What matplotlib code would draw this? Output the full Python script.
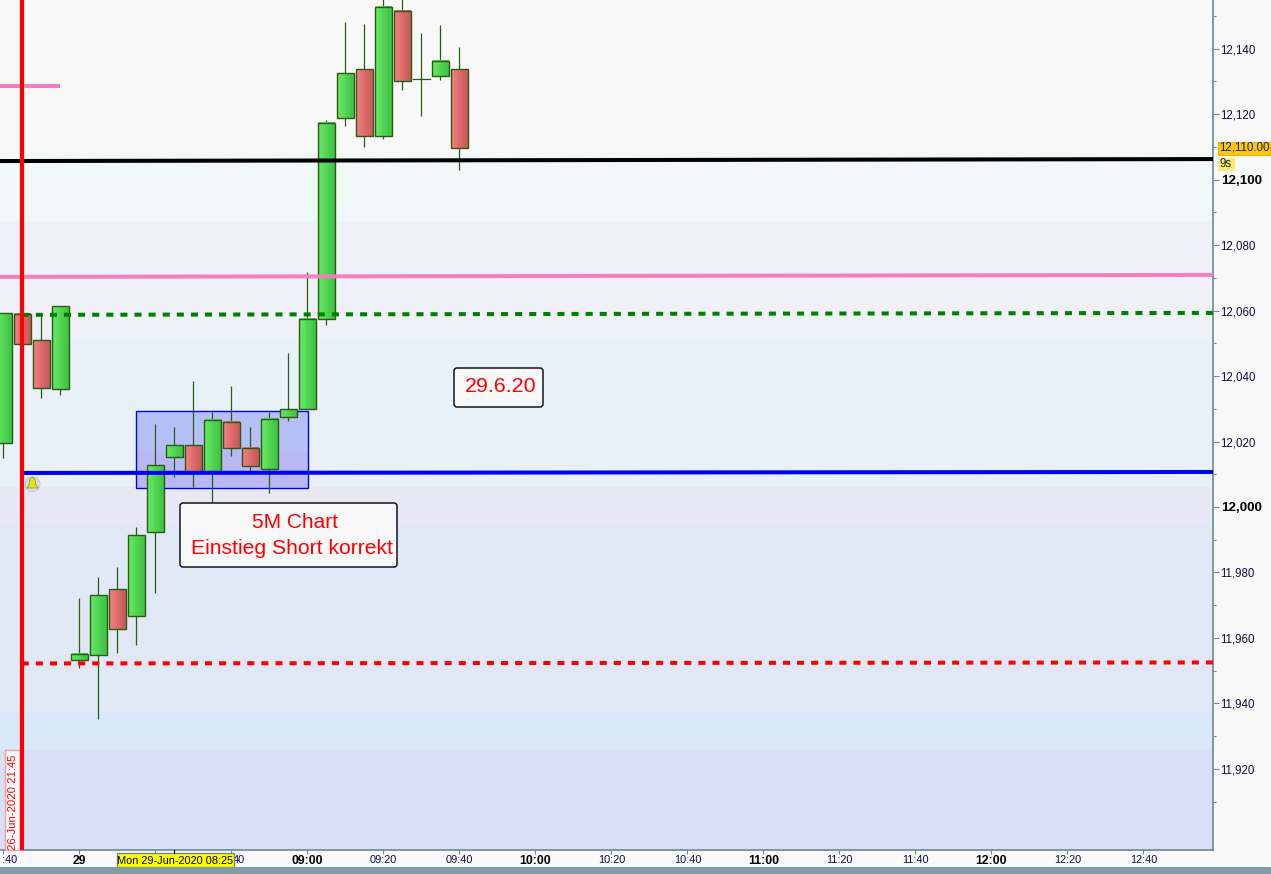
#!/usr/bin/env python3
# -*- coding: utf-8 -*-
import numpy as np
import matplotlib
matplotlib.use('Agg')
import matplotlib.pyplot as plt
from matplotlib.patches import Rectangle, FancyBboxPatch, Polygon, Circle
from matplotlib.transforms import Affine2D

plt.rcParams['font.family'] = ['Liberation Sans', 'DejaVu Sans']

# %% Data
# minutes relative to Mon 29-Jun 08:00, earlier ones are the Friday close
minutes = [-20, -15, -10, -5, 0, 5, 10, 15, 20, 25, 30, 35, 40, 45, 50, 55,
           60, 65, 70, 75, 80, 85, 90, 95, 100]
opens = [12019.6, 12059.0, 12051.0, 12036.1, 11953.2, 11954.8, 11974.9,
         11966.7, 11992.4, 12015.3, 12018.9, 12010.7, 12026.0, 12018.0,
         12011.6, 12027.5, 12029.9, 12057.4, 12118.9, 12133.8, 12113.2,
         12151.6, 12130.8, 12131.7, 12133.8]
highs = [12059.3, 12059.0, 12059.0, 12061.4, 11972.2, 11978.6, 11981.7,
         11993.9, 12025.4, 12024.4, 12038.5, 12029.0, 12037.0, 12024.4,
         12029.0, 12047.1, 12071.8, 12118.3, 12148.2, 12147.6, 12160.0,
         12160.0, 12144.8, 12147.3, 12140.6]
lows = [12015.0, 12049.8, 12033.3, 12034.2, 11950.8, 11935.2, 11955.4,
        11957.8, 11973.7, 12009.2, 12006.1, 12001.5, 12015.6, 12010.7,
        12004.3, 12026.3, 12029.9, 12055.6, 12116.4, 12110.0, 12112.4,
        12127.4, 12119.5, 12130.5, 12103.0]
closes = [12059.3, 12049.8, 12036.4, 12061.4, 11955.1, 11973.1, 11962.7,
          11991.4, 12012.8, 12018.9, 12010.7, 12026.6, 12018.0, 12012.5,
          12026.9, 12029.9, 12057.4, 12117.3, 12132.6, 12113.4, 12152.8,
          12130.2, 12130.8, 12136.3, 12109.7]

band_edges = [12155, 12108.5, 12087.4, 12051.6, 12006.1, 11994.8, 11937.4,
              11925.7, 11895.2]
band_colors = ['#f8f8f8', '#f0f8f8', '#f0f0f8', '#e8f0f8', '#e8e8f5',
               '#e0e8f5', '#d8e8f8', '#d8e0f8']

price_ticks = [11920, 11940, 11960, 11980, 12000, 12020, 12040, 12060, 12080,
               12100, 12120, 12140]
bold_prices = [12000, 12100]
minor_prices = [11910, 11930, 11950, 11970, 11990, 12010, 12030, 12050, 12070,
                12090, 12110, 12130, 12150]
time_ticks = [-20, 0, 20, 40, 60, 80, 100, 120, 140, 160, 180, 200, 220, 240,
              260, 280]
time_labels = ['', '29', '', '', '09:00', '09:20', '09:40', '10:00',
               '10:20', '10:40', '11:00', '11:20', '11:40', '12:00', '12:20',
               '12:40']
bold_times = ['29', '09:00', '10:00', '11:00', '12:00']

# (left, right) price of each drawn level
black_level = (12105.7, 12106.3)
pink_level = (12070.3, 12070.9)
green_level = (12058.7, 12059.3)
blue_level = (12010.4, 12010.7)
red_level = (11952.2, 11952.5)
pink_short = 12128.6
event_time = -15.2
zone_x = (14.9, 60.1)
zone_y = (12005.9, 12029.4)
zone_split = 12017

# %% Plot
fig = plt.figure(figsize=(12.71, 8.74), dpi=100, facecolor='#f8f8f8')
ax = fig.add_axes([0, 24 / 874, 1213 / 1271, 850 / 874], facecolor='#f8f8f8')
pix = Affine2D().scale(1, -1).translate(0, 874)  # reference pixels

xmin, xmax = -20.92, 298.3
ymin, ymax = 11895.2, 12154.9

for top, bottom, col in zip(band_edges[:-1], band_edges[1:], band_colors):
    ax.axhspan(bottom, top, color=col, lw=0, zorder=0)

zone_w = zone_x[1] - zone_x[0]
ax.add_patch(Rectangle((zone_x[0], zone_split), zone_w, zone_y[1] - zone_split,
                       facecolor='#b4c0f5', edgecolor='none', zorder=1))
ax.add_patch(Rectangle((zone_x[0], zone_y[0]), zone_w, zone_split - zone_y[0],
                       facecolor='#b8b8f5', edgecolor='none', zorder=1))
ax.add_patch(Rectangle((zone_x[0], zone_y[0]), zone_w, zone_y[1] - zone_y[0],
                       facecolor='none', edgecolor='#0000ff', lw=1.0, zorder=1.5))

# candles
shade = np.linspace(0, 1, 12)[:, None]
grad_green = (np.array([0.40, 0.92, 0.40]) * (1 - shade)
              + np.array([0.25, 0.76, 0.27]) * shade)[None, :, :]
grad_red = (np.array([0.96, 0.50, 0.50]) * (1 - shade)
            + np.array([0.78, 0.35, 0.35]) * shade)[None, :, :]
wick = '#2b5a12'
w = 4.3
for m, o, h, l, c in zip(minutes, opens, highs, lows, closes):
    ax.plot([m, m], [l, h], color=wick, lw=0.9, zorder=2, solid_capstyle='butt')
    if o == c:
        ax.plot([m - w / 2, m + w / 2], [o, o], color=wick, lw=0.9, zorder=3)
        continue
    img = grad_green if c > o else grad_red
    ax.imshow(img, extent=(m - w / 2, m + w / 2, min(o, c), max(o, c)),
              aspect='auto', interpolation='nearest', zorder=3)
    ax.add_patch(Rectangle((m - w / 2, min(o, c)), w, abs(c - o),
                           facecolor='none', edgecolor=wick, lw=1.0, zorder=4))

# levels
solid = dict(lw=2.9, zorder=5, solid_capstyle='butt')
dashed = dict(lw=2.9, zorder=5, dashes=(1.75, 1.75), dash_capstyle='butt')
ax.plot([xmin, xmax], black_level, color='black', **solid)
ax.plot([xmin, xmax], pink_level, color='#f47fc0', **solid)
ax.plot([xmin, -5], [pink_short, pink_short], color='#f47fc0', **solid)
ax.plot([event_time, xmax], green_level, color='#008000', **dashed)
ax.plot([event_time, xmax], blue_level, color='#0000f0', **solid)
ax.plot([event_time, xmax], red_level, color='#ff0000', **dashed)
ax.axvline(event_time, color='#ff0000', lw=3.0, zorder=6)

ax.set_xlim(xmin, xmax)
ax.set_ylim(ymin, ymax)

# axes
axis_col = '#6f8791'
ax.yaxis.tick_right()
ax.set_yticks(price_ticks)
ax.set_yticklabels([f'{p:,}' for p in price_ticks], fontsize=8.3, color='#10103c')
ax.set_yticks(minor_prices, minor=True)
ax.tick_params(axis='y', which='major', length=4, width=0.8, color=axis_col, pad=1.5)
ax.tick_params(axis='y', which='minor', length=2.2, width=0.8, color=axis_col)
for lab, p in zip(ax.get_yticklabels(), price_ticks):
    if p in bold_prices:
        lab.set_fontweight('bold')
        lab.set_fontsize(9.6)
        lab.set_color('black')
ax.set_xticks(time_ticks)
ax.set_xticklabels(time_labels, fontsize=7.9, color='#10103c')
ax.tick_params(axis='x', length=2.8, width=0.8, color=axis_col, pad=0.6)
for lab, t in zip(ax.get_xticklabels(), time_labels):
    if t in bold_times:
        lab.set_fontweight('bold')
        lab.set_fontsize(8.8)
        lab.set_color('black')
for side in ['left', 'top']:
    ax.spines[side].set_visible(False)
for side in ['right', 'bottom']:
    ax.spines[side].set_color(axis_col)
    ax.spines[side].set_linewidth(1.2)

# labels cut by the window edge and by the date tag
ax.text(10, 860, ':40', transform=pix, color='#10103c', fontsize=7.9,
        ha='center', va='center', clip_on=False)
ax.text(239, 860, '40', transform=pix, color='#10103c', fontsize=7.9,
        ha='center', va='center', clip_on=False)

# callouts
ax.add_patch(FancyBboxPatch((183, 506), 211, 58, boxstyle='round,pad=3,rounding_size=3',
                            transform=pix, facecolor='#f8f8f8', edgecolor='black',
                            lw=1, zorder=7, clip_on=False))
ax.add_patch(FancyBboxPatch((457, 371), 83, 33, boxstyle='round,pad=3,rounding_size=3',
                            transform=pix, facecolor='#f8f8f8', edgecolor='black',
                            lw=1, zorder=7, clip_on=False))
ax.text(294.5, 522, '5M Chart', transform=pix, color='#ff0000', fontsize=15,
        ha='center', va='center', zorder=8)
ax.text(292, 548, 'Einstieg Short korrekt', transform=pix, color='#ff0000',
        fontsize=15.2, ha='center', va='center', zorder=8)
ax.text(501, 387, '29.6.20', transform=pix, color='#ff0000', fontsize=15.4,
        ha='center', va='center', zorder=8)

# bell icon
ax.add_patch(Circle((32.5, 484), 7.5, transform=pix, facecolor='#cfe3ee',
                    edgecolor='#a8c8d8', lw=0.6, zorder=7, clip_on=False))
ax.add_patch(Polygon([(32.5, 477.5), (35, 479), (36, 485), (38.5, 488), (26.5, 488),
                      (29, 485), (30, 479)], transform=pix, facecolor='#eedc20',
                     edgecolor='#a89810', lw=0.6, zorder=8, clip_on=False))

# tags
ax.add_patch(Rectangle((5, 750), 15, 100, transform=pix, facecolor='#f8f8f8',
                       edgecolor='#f4a0a0', lw=1, zorder=5.5, clip_on=False))
ax.text(13, 802, '26-Jun-2020 21:45', transform=pix, rotation=90, color='#ff0000',
        fontsize=8.1, ha='center', va='center', zorder=5.6)
ax.add_patch(Rectangle((116.5, 853), 117, 14, transform=pix, facecolor='#ffff00',
                       edgecolor=axis_col, lw=1, zorder=7, clip_on=False))
ax.text(175, 861, 'Mon 29-Jun-2020 08:25', transform=pix, color='black', fontsize=7.9,
        ha='center', va='center', zorder=8, clip_on=False)
ax.plot([174, 174], [850, 853], transform=pix, color='black', lw=0.8, zorder=8,
        clip_on=False)
ax.add_patch(Rectangle((1218, 141.5), 52, 13, transform=pix, facecolor='#f8c818',
                       edgecolor='#f0b000', lw=0.8, zorder=7, clip_on=False))
ax.text(1244, 148, '12,110.00', transform=pix, color='#202020', fontsize=8.3,
        ha='center', va='center', zorder=8, clip_on=False)
ax.add_patch(Rectangle((1218, 158), 16, 12, transform=pix, facecolor='#fbe870',
                       edgecolor='#fbe870', lw=0.5, zorder=7, clip_on=False))
ax.text(1226, 164, '9s', transform=pix, color='#202020', fontsize=8.3,
        ha='center', va='center', zorder=8, clip_on=False)

# bottom strip
fig.add_artist(Rectangle((0, 0), 1271, 7, transform=Affine2D(), facecolor='#7f9ca8',
                         edgecolor='none'))

plt.savefig('out.png', dpi=100, facecolor=fig.get_facecolor())
plt.close(fig)
